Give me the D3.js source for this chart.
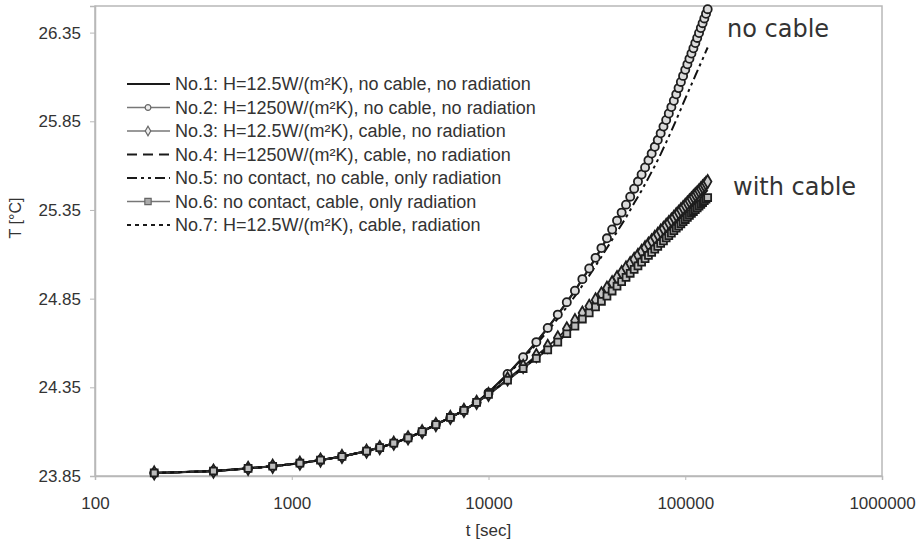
<!DOCTYPE html>
<html>
<head>
<meta charset="utf-8">
<script src="https://cdn.jsdelivr.net/npm/d3@7"></script>
<style>
body { margin: 0; background: #fff; }
svg text { font-family: "Liberation Sans", Arial, Helvetica, sans-serif; fill: #333; }
</style>
</head>
<body>
<div id="chart"></div>
<script>
// time steps [sec] - all runs share the same steps
var timeEarly = [200, 400, 600, 800, 1100, 1400, 1800, 2400, 2800, 3300, 3900, 4600, 5400, 6400, 7500, 8700];
var timeLate = [10000, 12500, 15000, 17500, 20000, 22500, 25000, 27500, 30000, 32500,
    35000, 37500, 40000, 42500, 45000, 47500, 50000, 52500, 55000, 57500,
    60000, 62500, 65000, 67500, 70000, 72500, 75000, 77500, 80000, 82500,
    85000, 87500, 90000, 92500, 95000, 97500, 100000, 102500, 105000, 107500,
    110000, 112500, 115000, 117500, 120000, 122500, 125000, 127500, 130000];

// T [C] before ~10000 s, where all seven runs lie on top of each other
var tempEarly = [23.867, 23.878, 23.893, 23.905, 23.922, 23.94, 23.96, 23.99, 24.01, 24.035,
    24.065, 24.10, 24.14, 24.18, 24.22, 24.265];

// T [C] after 10000 s, one array per run
var run1Late = [24.32, 24.425, 24.52, 24.605, 24.685, 24.76, 24.83, 24.895, 24.96, 25.02,
    25.08, 25.135, 25.19, 25.24, 25.29, 25.335, 25.38, 25.425, 25.47, 25.51,
    25.55, 25.59, 25.63, 25.668, 25.706, 25.744, 25.782, 25.82, 25.857, 25.894,
    25.93, 25.966, 26.002, 26.037, 26.072, 26.106, 26.14, 26.171, 26.202, 26.232,
    26.262, 26.291, 26.32, 26.348, 26.376, 26.403, 26.43, 26.456, 26.482];
var run2Late = [24.32, 24.425, 24.52, 24.605, 24.685, 24.76, 24.83, 24.895, 24.96, 25.02,
    25.08, 25.135, 25.19, 25.24, 25.29, 25.335, 25.38, 25.425, 25.47, 25.51,
    25.55, 25.59, 25.63, 25.668, 25.706, 25.744, 25.782, 25.82, 25.857, 25.894,
    25.93, 25.966, 26.002, 26.037, 26.072, 26.106, 26.14, 26.171, 26.202, 26.232,
    26.262, 26.291, 26.32, 26.348, 26.376, 26.403, 26.43, 26.456, 26.482];
var run3Late = [24.31, 24.397, 24.468, 24.529, 24.581, 24.629, 24.68, 24.726, 24.769, 24.807,
    24.843, 24.877, 24.909, 24.94, 24.969, 24.997, 25.023, 25.048, 25.072, 25.094,
    25.116, 25.137, 25.157, 25.176, 25.195, 25.212, 25.23, 25.246, 25.263, 25.278,
    25.293, 25.308, 25.323, 25.336, 25.35, 25.363, 25.376, 25.389, 25.401, 25.413,
    25.425, 25.436, 25.447, 25.458, 25.469, 25.48, 25.49, 25.5, 25.51];
var run4Late = [24.31, 24.394, 24.462, 24.52, 24.57, 24.616, 24.665, 24.709, 24.751, 24.787,
    24.822, 24.854, 24.885, 24.915, 24.943, 24.97, 24.995, 25.019, 25.042, 25.063,
    25.084, 25.104, 25.123, 25.141, 25.16, 25.176, 25.193, 25.209, 25.225, 25.239,
    25.254, 25.268, 25.283, 25.295, 25.308, 25.321, 25.333, 25.346, 25.357, 25.369,
    25.38, 25.391, 25.402, 25.412, 25.423, 25.433, 25.443, 25.452, 25.462];
var run5Late = [24.32, 24.42, 24.511, 24.592, 24.667, 24.738, 24.803, 24.864, 24.924, 24.98,
    25.035, 25.086, 25.136, 25.182, 25.227, 25.268, 25.308, 25.349, 25.389, 25.425,
    25.46, 25.496, 25.531, 25.565, 25.598, 25.632, 25.665, 25.699, 25.731, 25.764,
    25.795, 25.827, 25.858, 25.889, 25.919, 25.949, 25.978, 26.005, 26.031, 26.057,
    26.082, 26.107, 26.131, 26.155, 26.178, 26.2, 26.223, 26.245, 26.266];
var run6Late = [24.31, 24.39, 24.456, 24.513, 24.561, 24.605, 24.652, 24.695, 24.735, 24.77,
    24.803, 24.835, 24.864, 24.893, 24.92, 24.946, 24.97, 24.993, 25.015, 25.035,
    25.056, 25.075, 25.094, 25.111, 25.129, 25.144, 25.161, 25.176, 25.192, 25.205,
    25.219, 25.233, 25.247, 25.259, 25.272, 25.284, 25.296, 25.308, 25.319, 25.33,
    25.341, 25.352, 25.362, 25.372, 25.382, 25.392, 25.402, 25.411, 25.42];
var run7Late = [24.31, 24.392, 24.459, 24.516, 24.565, 24.61, 24.658, 24.701, 24.742, 24.777,
    24.811, 24.843, 24.873, 24.902, 24.93, 24.956, 24.98, 25.004, 25.026, 25.047,
    25.068, 25.087, 25.106, 25.124, 25.142, 25.158, 25.175, 25.19, 25.206, 25.22,
    25.234, 25.248, 25.262, 25.274, 25.288, 25.3, 25.312, 25.324, 25.336, 25.347,
    25.358, 25.368, 25.379, 25.389, 25.4, 25.41, 25.419, 25.429, 25.438];

var legendLabels = [
    "No.1: H=12.5W/(m\u00b2K), no cable, no radiation",
    "No.2: H=1250W/(m\u00b2K), no cable, no radiation",
    "No.3: H=12.5W/(m\u00b2K), cable, no radiation",
    "No.4: H=1250W/(m\u00b2K), cable, no radiation",
    "No.5: no contact, no cable, only radiation",
    "No.6: no contact, cable, only radiation",
    "No.7: H=12.5W/(m\u00b2K), cable, radiation"
];
var xTicks = [100, 1000, 10000, 100000, 1000000];
var yTicks = [23.85, 24.35, 24.85, 25.35, 25.85, 26.35];

var width = 920, height = 543;
var margin = {top: 6, right: 38, bottom: 67, left: 95};

var svg = d3.select("#chart").append("svg")
    .attr("width", width)
    .attr("height", height);

var x = d3.scaleLog()
    .domain([100, 1000000])
    .range([margin.left, width - margin.right]);
var y = d3.scaleLinear()
    .domain([23.85, 26.5])
    .range([height - margin.bottom, margin.top]);

var times = timeEarly.concat(timeLate);
function makeRun(late){
    return times.map(function(t, i){
        return {t: t, T: i < tempEarly.length ? tempEarly[i] : late[i - tempEarly.length]};
    });
}

// line style + marker for each run
var runs = [
    {values: makeRun(run1Late), stroke: "#111", width: 2.2, dash: null, marker: null},
    {values: makeRun(run2Late), stroke: "#222", width: 1.8, dash: null, marker: "circle"},
    {values: makeRun(run3Late), stroke: "#222", width: 1.8, dash: null, marker: "diamond"},
    {values: makeRun(run4Late), stroke: "#111", width: 2, dash: "10,6", marker: null},
    {values: makeRun(run5Late), stroke: "#111", width: 2, dash: "10,4,3,4,3,4", marker: null},
    {values: makeRun(run6Late), stroke: "#333", width: 1.8, dash: null, marker: "square"},
    {values: makeRun(run7Late), stroke: "#111", width: 2, dash: "4,4", marker: null}
];

// plot frame
svg.append("rect")
    .attr("x", margin.left)
    .attr("y", margin.top)
    .attr("width", width - margin.left - margin.right)
    .attr("height", height - margin.top - margin.bottom)
    .attr("fill", "none")
    .attr("stroke", "#b8b8b8")
    .attr("stroke-width", 1.5);

// axes
var xAxis = d3.axisBottom(x).tickValues(xTicks).tickFormat(d3.format("d")).tickSize(4).tickPadding(17);
var yAxis = d3.axisLeft(y).tickValues(yTicks).tickFormat(d3.format(".2f")).tickSize(5).tickPadding(9);

var gx = svg.append("g")
    .attr("transform", "translate(0," + (height - margin.bottom) + ")")
    .call(xAxis);
var gy = svg.append("g")
    .attr("transform", "translate(" + margin.left + ",0)")
    .call(yAxis);
[gx, gy].forEach(function(g){
    g.select(".domain").attr("stroke", "#b8b8b8").attr("stroke-width", 1.5);
    g.selectAll(".tick line").attr("stroke", "#b8b8b8");
    g.selectAll(".tick text").attr("font-size", 17).attr("fill", "#333");
});

svg.append("text")
    .attr("x", x(10000))
    .attr("y", 536)
    .attr("text-anchor", "middle")
    .attr("font-size", 17)
    .text("t [sec]");
svg.append("text")
    .attr("transform", "translate(21,218) rotate(-90)")
    .attr("text-anchor", "middle")
    .attr("font-size", 16)
    .text("T [\u00b0C]");

// curves
var line = d3.line()
    .x(function(d){ return x(d.t); })
    .y(function(d){ return y(d.T); });

runs.forEach(function(r){
    svg.append("path")
        .datum(r.values)
        .attr("fill", "none")
        .attr("stroke", r.stroke)
        .attr("stroke-width", r.width)
        .attr("stroke-dasharray", r.dash)
        .attr("d", line);
});

var symbols = {
    circle: d3.symbol().type(d3.symbolCircle).size(52),
    diamond: d3.symbol().type(d3.symbolDiamond).size(50),
    square: d3.symbol().type(d3.symbolSquare).size(48)
};
var fills = {circle: "#dcdcdc", diamond: "#c8c8c8", square: "#bdbdbd"};

runs.forEach(function(r){
    if (!r.marker) return;
    svg.append("g").selectAll("path")
        .data(r.values)
        .join("path")
        .attr("transform", function(d){ return "translate(" + x(d.t) + "," + y(d.T) + ")"; })
        .attr("d", symbols[r.marker])
        .attr("fill", fills[r.marker])
        .attr("stroke", "#1e1e1e")
        .attr("stroke-width", 1.8);
});

// legend
var legend = svg.append("g");
runs.forEach(function(r, i){
    var ly = 84 + i * 23.5;
    legend.append("line")
        .attr("x1", 127).attr("x2", 170)
        .attr("y1", ly).attr("y2", ly)
        .attr("stroke", r.marker ? "#777" : "#1a1a1a")
        .attr("stroke-width", r.marker ? 1.6 : 2.2)
        .attr("stroke-dasharray", r.dash);
    if (r.marker){
        legend.append("path")
            .attr("transform", "translate(148," + ly + ")")
            .attr("d", d3.symbol().type(r.marker == "circle" ? d3.symbolCircle : r.marker == "diamond" ? d3.symbolDiamond : d3.symbolSquare).size(r.marker == "square" ? 40 : 26))
            .attr("fill", r.marker == "square" ? "#aaa" : "#eee")
            .attr("stroke", "#666")
            .attr("stroke-width", 1.2);
    }
    legend.append("text")
        .attr("x", 175)
        .attr("y", ly)
        .attr("dy", "0.36em")
        .attr("font-size", 18)
        .text(legendLabels[i]);
});

// group labels
svg.append("text")
    .attr("x", 727).attr("y", 37)
    .style("font-family", "'DejaVu Sans', sans-serif")
    .attr("font-size", 24)
    .attr("fill", "#222")
    .text("no cable");
svg.append("text")
    .attr("x", 733).attr("y", 195)
    .style("font-family", "'DejaVu Sans', sans-serif")
    .attr("font-size", 24)
    .attr("fill", "#222")
    .text("with cable");
</script>
</body>
</html>
